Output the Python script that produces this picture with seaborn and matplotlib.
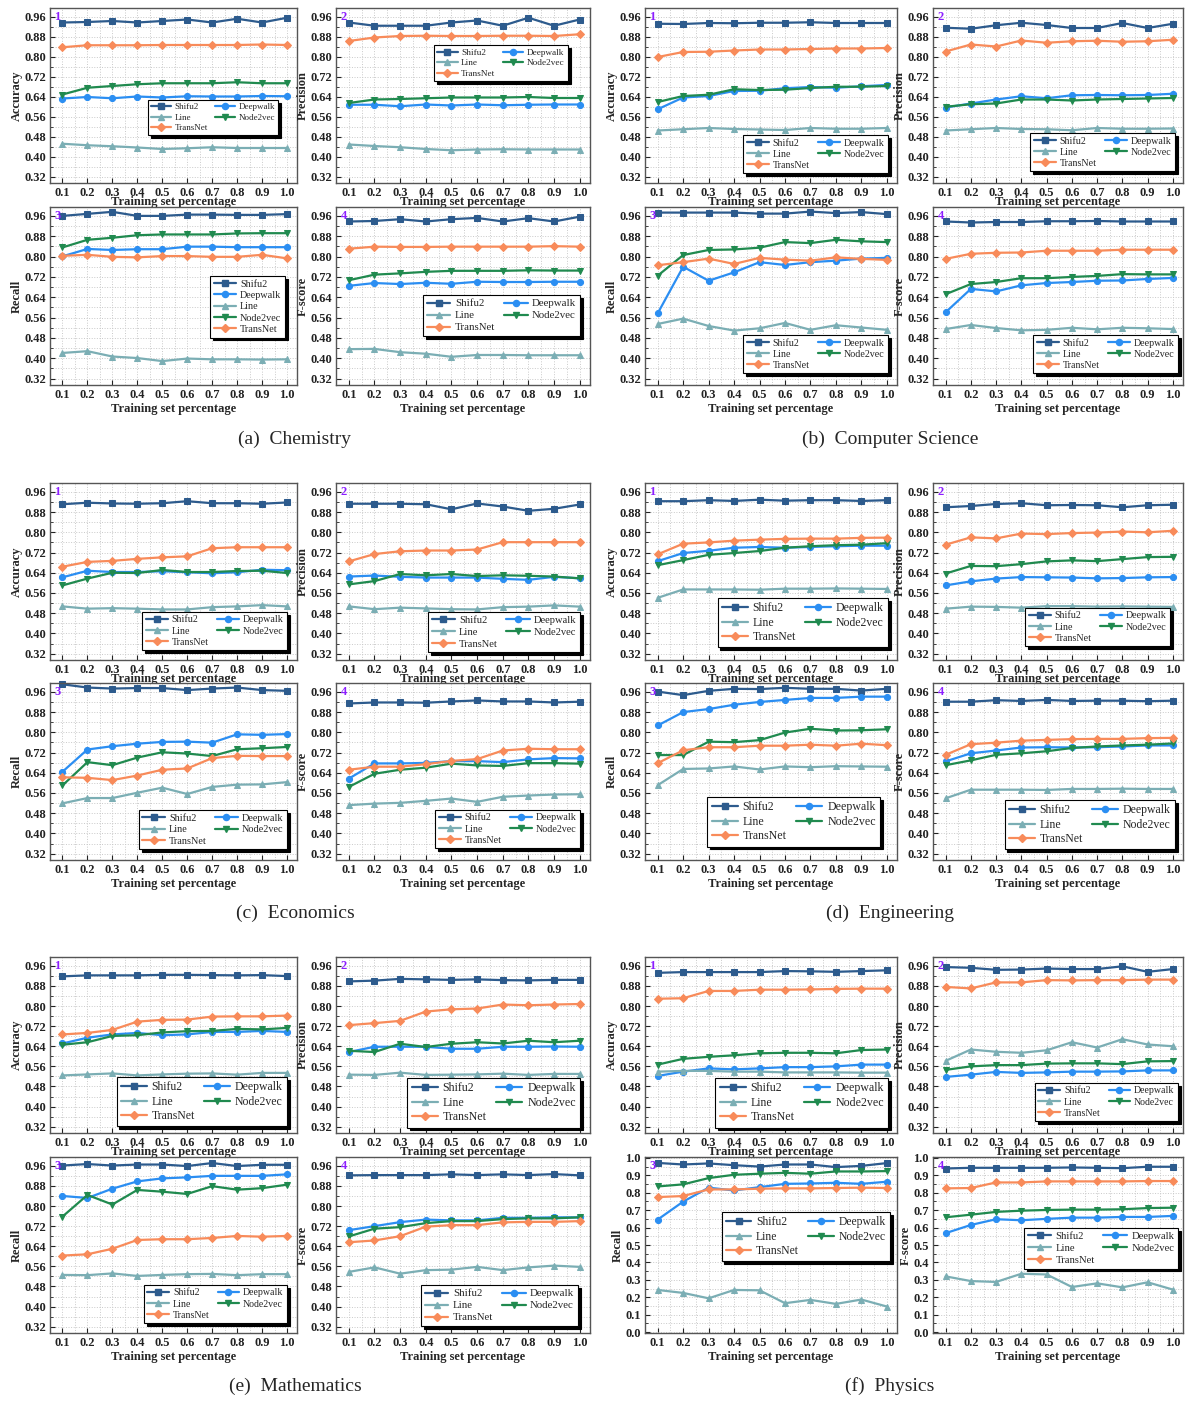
import numpy as np
import pandas as pd
import matplotlib
matplotlib.use("Agg")
import matplotlib.pyplot as plt
from matplotlib.lines import Line2D
from matplotlib.ticker import MultipleLocator, FormatStrFormatter
import seaborn as sns

# ---------------------------------------------------------------- data
TRAIN_PCT = [0.1, 0.2, 0.3, 0.4, 0.5, 0.6, 0.7, 0.8, 0.9, 1.0]
METHODS = ["Shifu2", "Deepwalk", "Line", "Node2vec", "TransNet"]

# Chemistry
CHEM_ACC = {
    "Shifu2":   [0.937, 0.939, 0.943, 0.937, 0.943, 0.949, 0.937, 0.952, 0.937, 0.956],
    "Deepwalk": [0.633, 0.639, 0.634, 0.641, 0.637, 0.642, 0.641, 0.641, 0.643, 0.642],
    "Line":     [0.452, 0.446, 0.442, 0.437, 0.431, 0.434, 0.438, 0.435, 0.435, 0.435],
    "Node2vec": [0.649, 0.676, 0.683, 0.690, 0.694, 0.694, 0.694, 0.698, 0.694, 0.694],
    "TransNet": [0.838, 0.846, 0.846, 0.846, 0.847, 0.847, 0.847, 0.847, 0.849, 0.847],
}
CHEM_PREC = {
    "Shifu2":   [0.937, 0.924, 0.924, 0.924, 0.937, 0.945, 0.924, 0.956, 0.924, 0.949],
    "Deepwalk": [0.608, 0.608, 0.602, 0.609, 0.605, 0.609, 0.606, 0.608, 0.609, 0.609],
    "Line":     [0.449, 0.443, 0.438, 0.431, 0.426, 0.429, 0.430, 0.429, 0.429, 0.429],
    "Node2vec": [0.615, 0.629, 0.631, 0.634, 0.637, 0.637, 0.637, 0.639, 0.635, 0.635],
    "TransNet": [0.863, 0.877, 0.883, 0.884, 0.883, 0.883, 0.884, 0.884, 0.883, 0.890],
}
CHEM_REC = {
    "Shifu2":   [0.960, 0.968, 0.976, 0.960, 0.960, 0.965, 0.965, 0.964, 0.964, 0.967],
    "Deepwalk": [0.801, 0.830, 0.826, 0.829, 0.829, 0.839, 0.839, 0.837, 0.837, 0.837],
    "Line":     [0.421, 0.428, 0.407, 0.401, 0.389, 0.399, 0.396, 0.396, 0.395, 0.396],
    "Node2vec": [0.836, 0.866, 0.874, 0.884, 0.887, 0.887, 0.887, 0.891, 0.892, 0.892],
    "TransNet": [0.803, 0.807, 0.799, 0.797, 0.802, 0.802, 0.799, 0.799, 0.807, 0.793],
}
CHEM_F1 = {
    "Shifu2":   [0.938, 0.940, 0.947, 0.938, 0.947, 0.952, 0.938, 0.951, 0.938, 0.957],
    "Deepwalk": [0.685, 0.696, 0.692, 0.697, 0.693, 0.701, 0.700, 0.700, 0.701, 0.701],
    "Line":     [0.436, 0.437, 0.424, 0.418, 0.406, 0.413, 0.413, 0.412, 0.412, 0.412],
    "Node2vec": [0.707, 0.729, 0.734, 0.740, 0.744, 0.744, 0.744, 0.746, 0.745, 0.745],
    "TransNet": [0.831, 0.839, 0.838, 0.838, 0.839, 0.839, 0.839, 0.839, 0.841, 0.839],
}

# Computer Science
CS_ACC = {
    "Shifu2":   [0.932, 0.931, 0.935, 0.934, 0.936, 0.936, 0.938, 0.935, 0.935, 0.935],
    "Deepwalk": [0.590, 0.637, 0.643, 0.663, 0.664, 0.674, 0.679, 0.676, 0.682, 0.687],
    "Line":     [0.505, 0.510, 0.515, 0.511, 0.509, 0.507, 0.515, 0.512, 0.512, 0.515],
    "Node2vec": [0.619, 0.643, 0.648, 0.670, 0.667, 0.668, 0.675, 0.680, 0.680, 0.683],
    "TransNet": [0.799, 0.819, 0.820, 0.825, 0.829, 0.829, 0.831, 0.833, 0.833, 0.835],
}
CS_PREC = {
    "Shifu2":   [0.916, 0.912, 0.926, 0.936, 0.927, 0.915, 0.915, 0.935, 0.915, 0.932],
    "Deepwalk": [0.597, 0.613, 0.629, 0.642, 0.634, 0.646, 0.647, 0.646, 0.647, 0.652],
    "Line":     [0.505, 0.510, 0.515, 0.511, 0.510, 0.506, 0.515, 0.512, 0.512, 0.513],
    "Node2vec": [0.600, 0.610, 0.613, 0.629, 0.629, 0.625, 0.629, 0.631, 0.633, 0.635],
    "TransNet": [0.821, 0.849, 0.841, 0.865, 0.856, 0.862, 0.864, 0.860, 0.862, 0.868],
}
CS_REC = {
    "Shifu2":   [0.973, 0.973, 0.973, 0.973, 0.969, 0.969, 0.977, 0.971, 0.975, 0.967],
    "Deepwalk": [0.577, 0.760, 0.705, 0.738, 0.778, 0.767, 0.778, 0.784, 0.792, 0.795],
    "Line":     [0.535, 0.556, 0.527, 0.509, 0.518, 0.539, 0.512, 0.530, 0.521, 0.512],
    "Node2vec": [0.725, 0.806, 0.826, 0.828, 0.835, 0.857, 0.853, 0.866, 0.860, 0.857],
    "TransNet": [0.766, 0.778, 0.792, 0.771, 0.795, 0.788, 0.784, 0.797, 0.791, 0.787],
}
CS_F1 = {
    "Shifu2":   [0.938, 0.934, 0.936, 0.936, 0.939, 0.939, 0.940, 0.938, 0.938, 0.938],
    "Deepwalk": [0.581, 0.673, 0.663, 0.687, 0.696, 0.700, 0.705, 0.706, 0.712, 0.716],
    "Line":     [0.515, 0.531, 0.519, 0.510, 0.512, 0.520, 0.514, 0.520, 0.518, 0.515],
    "Node2vec": [0.652, 0.692, 0.700, 0.715, 0.715, 0.720, 0.724, 0.731, 0.730, 0.730],
    "TransNet": [0.791, 0.811, 0.815, 0.816, 0.823, 0.823, 0.823, 0.827, 0.827, 0.827],
}

# Economics
ECON_ACC = {
    "Shifu2":   [0.911, 0.917, 0.914, 0.913, 0.915, 0.923, 0.915, 0.915, 0.913, 0.918],
    "Deepwalk": [0.622, 0.648, 0.643, 0.643, 0.646, 0.642, 0.638, 0.642, 0.652, 0.650],
    "Line":     [0.507, 0.498, 0.500, 0.498, 0.495, 0.495, 0.504, 0.507, 0.512, 0.507],
    "Node2vec": [0.590, 0.617, 0.640, 0.639, 0.651, 0.643, 0.643, 0.647, 0.648, 0.639],
    "TransNet": [0.664, 0.683, 0.687, 0.695, 0.701, 0.705, 0.737, 0.741, 0.741, 0.741],
}
ECON_PREC = {
    "Shifu2":   [0.913, 0.913, 0.913, 0.911, 0.891, 0.914, 0.902, 0.885, 0.893, 0.910],
    "Deepwalk": [0.625, 0.629, 0.624, 0.621, 0.621, 0.621, 0.616, 0.612, 0.624, 0.618],
    "Line":     [0.507, 0.496, 0.502, 0.499, 0.496, 0.495, 0.504, 0.506, 0.511, 0.506],
    "Node2vec": [0.594, 0.607, 0.635, 0.630, 0.635, 0.627, 0.630, 0.628, 0.625, 0.618],
    "TransNet": [0.685, 0.714, 0.725, 0.728, 0.728, 0.732, 0.761, 0.761, 0.761, 0.761],
}
ECON_REC = {
    "Shifu2":   [0.990, 0.977, 0.973, 0.975, 0.975, 0.967, 0.973, 0.977, 0.967, 0.964],
    "Deepwalk": [0.644, 0.732, 0.745, 0.755, 0.762, 0.763, 0.759, 0.792, 0.790, 0.793],
    "Line":     [0.519, 0.540, 0.540, 0.561, 0.581, 0.556, 0.584, 0.593, 0.594, 0.603],
    "Node2vec": [0.590, 0.682, 0.670, 0.700, 0.721, 0.716, 0.706, 0.733, 0.737, 0.742],
    "TransNet": [0.622, 0.620, 0.611, 0.629, 0.652, 0.657, 0.698, 0.707, 0.706, 0.706],
}
ECON_F1 = {
    "Shifu2":   [0.914, 0.918, 0.918, 0.917, 0.922, 0.926, 0.922, 0.922, 0.918, 0.921],
    "Deepwalk": [0.617, 0.677, 0.677, 0.679, 0.686, 0.686, 0.682, 0.693, 0.698, 0.697],
    "Line":     [0.512, 0.518, 0.521, 0.529, 0.538, 0.525, 0.545, 0.550, 0.554, 0.555],
    "Node2vec": [0.584, 0.636, 0.652, 0.660, 0.676, 0.669, 0.667, 0.678, 0.678, 0.676],
    "TransNet": [0.652, 0.664, 0.664, 0.674, 0.687, 0.694, 0.728, 0.735, 0.733, 0.733],
}

# Engineering
ENG_ACC = {
    "Shifu2":   [0.923, 0.923, 0.927, 0.924, 0.929, 0.925, 0.927, 0.927, 0.924, 0.927],
    "Deepwalk": [0.686, 0.718, 0.727, 0.739, 0.742, 0.739, 0.742, 0.745, 0.747, 0.747],
    "Line":     [0.541, 0.574, 0.574, 0.574, 0.573, 0.577, 0.577, 0.578, 0.577, 0.576],
    "Node2vec": [0.670, 0.690, 0.711, 0.718, 0.726, 0.739, 0.745, 0.749, 0.751, 0.757],
    "TransNet": [0.713, 0.755, 0.760, 0.767, 0.771, 0.774, 0.775, 0.775, 0.778, 0.779],
}
ENG_PREC = {
    "Shifu2":   [0.899, 0.904, 0.912, 0.915, 0.907, 0.908, 0.907, 0.899, 0.907, 0.909],
    "Deepwalk": [0.590, 0.606, 0.617, 0.623, 0.622, 0.621, 0.618, 0.619, 0.622, 0.623],
    "Line":     [0.498, 0.506, 0.505, 0.502, 0.508, 0.508, 0.506, 0.507, 0.506, 0.505],
    "Node2vec": [0.637, 0.667, 0.666, 0.674, 0.685, 0.689, 0.686, 0.694, 0.702, 0.703],
    "TransNet": [0.751, 0.780, 0.776, 0.795, 0.793, 0.797, 0.799, 0.803, 0.800, 0.806],
}
ENG_REC = {
    "Shifu2":   [0.961, 0.947, 0.964, 0.972, 0.971, 0.976, 0.972, 0.972, 0.965, 0.972],
    "Deepwalk": [0.827, 0.880, 0.892, 0.909, 0.920, 0.928, 0.936, 0.936, 0.941, 0.941],
    "Line":     [0.591, 0.655, 0.657, 0.665, 0.653, 0.665, 0.662, 0.666, 0.665, 0.664],
    "Node2vec": [0.710, 0.710, 0.763, 0.761, 0.769, 0.799, 0.814, 0.807, 0.808, 0.812],
    "TransNet": [0.678, 0.729, 0.741, 0.741, 0.747, 0.747, 0.751, 0.747, 0.755, 0.749],
}
ENG_F1 = {
    "Shifu2":   [0.921, 0.921, 0.927, 0.924, 0.928, 0.924, 0.925, 0.925, 0.923, 0.925],
    "Deepwalk": [0.685, 0.717, 0.728, 0.740, 0.741, 0.740, 0.741, 0.744, 0.748, 0.748],
    "Line":     [0.539, 0.573, 0.573, 0.573, 0.572, 0.576, 0.576, 0.577, 0.576, 0.576],
    "Node2vec": [0.670, 0.689, 0.711, 0.717, 0.725, 0.738, 0.744, 0.748, 0.751, 0.756],
    "TransNet": [0.711, 0.753, 0.759, 0.767, 0.770, 0.773, 0.774, 0.774, 0.777, 0.778],
}

# Mathematics
MATH_ACC = {
    "Shifu2":   [0.918, 0.922, 0.922, 0.922, 0.924, 0.924, 0.923, 0.922, 0.923, 0.919],
    "Deepwalk": [0.651, 0.674, 0.687, 0.693, 0.684, 0.687, 0.697, 0.697, 0.701, 0.697],
    "Line":     [0.524, 0.528, 0.532, 0.524, 0.528, 0.531, 0.532, 0.527, 0.534, 0.534],
    "Node2vec": [0.646, 0.656, 0.681, 0.684, 0.695, 0.700, 0.701, 0.709, 0.707, 0.713],
    "TransNet": [0.687, 0.693, 0.705, 0.738, 0.745, 0.746, 0.758, 0.759, 0.759, 0.762],
}
MATH_PREC = {
    "Shifu2":   [0.898, 0.901, 0.908, 0.906, 0.904, 0.906, 0.903, 0.902, 0.904, 0.904],
    "Deepwalk": [0.617, 0.638, 0.638, 0.638, 0.630, 0.630, 0.638, 0.638, 0.639, 0.638],
    "Line":     [0.527, 0.526, 0.535, 0.526, 0.527, 0.528, 0.531, 0.526, 0.530, 0.530],
    "Node2vec": [0.622, 0.617, 0.650, 0.637, 0.650, 0.656, 0.651, 0.662, 0.656, 0.662],
    "TransNet": [0.724, 0.732, 0.741, 0.778, 0.787, 0.790, 0.806, 0.803, 0.806, 0.808],
}
MATH_REC = {
    "Shifu2":   [0.961, 0.967, 0.961, 0.965, 0.965, 0.959, 0.971, 0.959, 0.964, 0.964],
    "Deepwalk": [0.840, 0.832, 0.869, 0.898, 0.910, 0.914, 0.920, 0.920, 0.920, 0.926],
    "Line":     [0.526, 0.525, 0.532, 0.522, 0.526, 0.529, 0.530, 0.525, 0.529, 0.529],
    "Node2vec": [0.758, 0.844, 0.806, 0.864, 0.857, 0.848, 0.879, 0.865, 0.871, 0.885],
    "TransNet": [0.603, 0.608, 0.630, 0.665, 0.668, 0.668, 0.673, 0.681, 0.678, 0.681],
}
MATH_F1 = {
    "Shifu2":   [0.922, 0.923, 0.923, 0.923, 0.926, 0.923, 0.926, 0.923, 0.927, 0.922],
    "Deepwalk": [0.704, 0.720, 0.736, 0.746, 0.743, 0.743, 0.753, 0.753, 0.755, 0.755],
    "Line":     [0.538, 0.556, 0.531, 0.545, 0.547, 0.558, 0.545, 0.556, 0.563, 0.558],
    "Node2vec": [0.679, 0.710, 0.716, 0.732, 0.740, 0.740, 0.748, 0.751, 0.751, 0.755],
    "TransNet": [0.656, 0.663, 0.680, 0.718, 0.724, 0.724, 0.735, 0.737, 0.737, 0.740],
}

# Physics
PHYS_ACC = {
    "Shifu2":   [0.932, 0.935, 0.935, 0.935, 0.935, 0.939, 0.938, 0.936, 0.939, 0.942],
    "Deepwalk": [0.522, 0.539, 0.552, 0.548, 0.552, 0.557, 0.557, 0.560, 0.567, 0.567],
    "Line":     [0.539, 0.542, 0.542, 0.539, 0.539, 0.536, 0.536, 0.536, 0.535, 0.535],
    "Node2vec": [0.567, 0.590, 0.598, 0.604, 0.612, 0.614, 0.614, 0.612, 0.625, 0.627],
    "TransNet": [0.829, 0.831, 0.860, 0.860, 0.865, 0.865, 0.866, 0.868, 0.869, 0.869],
}
PHYS_PREC = {
    "Shifu2":   [0.955, 0.952, 0.944, 0.945, 0.949, 0.947, 0.947, 0.958, 0.936, 0.947],
    "Deepwalk": [0.518, 0.527, 0.538, 0.534, 0.536, 0.539, 0.539, 0.540, 0.544, 0.544],
    "Line":     [0.582, 0.627, 0.618, 0.614, 0.624, 0.656, 0.635, 0.668, 0.647, 0.640],
    "Node2vec": [0.546, 0.560, 0.565, 0.565, 0.571, 0.572, 0.572, 0.569, 0.580, 0.581],
    "TransNet": [0.876, 0.870, 0.894, 0.894, 0.903, 0.902, 0.903, 0.903, 0.905, 0.905],
}
PHYS_REC = {
    "Shifu2":   [0.971, 0.962, 0.968, 0.958, 0.950, 0.962, 0.962, 0.947, 0.954, 0.970],
    "Deepwalk": [0.646, 0.749, 0.829, 0.813, 0.832, 0.851, 0.853, 0.857, 0.851, 0.863],
    "Line":     [0.242, 0.225, 0.194, 0.242, 0.240, 0.166, 0.185, 0.162, 0.187, 0.147],
    "Node2vec": [0.836, 0.848, 0.884, 0.903, 0.909, 0.914, 0.909, 0.922, 0.922, 0.924],
    "TransNet": [0.775, 0.781, 0.819, 0.819, 0.823, 0.825, 0.825, 0.827, 0.829, 0.827],
}
PHYS_F1 = {
    "Shifu2":   [0.939, 0.943, 0.943, 0.943, 0.943, 0.945, 0.943, 0.941, 0.949, 0.949],
    "Deepwalk": [0.568, 0.615, 0.648, 0.642, 0.650, 0.657, 0.657, 0.661, 0.661, 0.667],
    "Line":     [0.320, 0.293, 0.288, 0.335, 0.331, 0.259, 0.280, 0.257, 0.286, 0.244],
    "Node2vec": [0.659, 0.674, 0.690, 0.697, 0.701, 0.703, 0.703, 0.705, 0.712, 0.714],
    "TransNet": [0.825, 0.827, 0.859, 0.859, 0.865, 0.865, 0.865, 0.865, 0.867, 0.867],
}

DOMAINS = ["Chemistry", "Computer Science", "Economics",
           "Engineering", "Mathematics", "Physics"]
DOMAIN_TAGS = ["(a)", "(b)", "(c)", "(d)", "(e)", "(f)"]
METRICS = ["Accuracy", "Precision", "Recall", "F-score"]
PANEL_DATA = [
    [CHEM_ACC, CHEM_PREC, CHEM_REC, CHEM_F1],
    [CS_ACC, CS_PREC, CS_REC, CS_F1],
    [ECON_ACC, ECON_PREC, ECON_REC, ECON_F1],
    [ENG_ACC, ENG_PREC, ENG_REC, ENG_F1],
    [MATH_ACC, MATH_PREC, MATH_REC, MATH_F1],
    [PHYS_ACC, PHYS_PREC, PHYS_REC, PHYS_F1],
]

# ---------------------------------------------------------------- style
COLORS = {"Shifu2": "#2D5B8D", "Deepwalk": "#2B8EF2", "Line": "#7BAEB4",
          "Node2vec": "#208A4F", "TransNet": "#F88B5A"}
MARKERS = {"Shifu2": "s", "Deepwalk": "o", "Line": "^",
           "Node2vec": "v", "TransNet": "D"}
MSIZE = {"Shifu2": 4.2, "Deepwalk": 4.4, "Line": 4.6, "Node2vec": 4.6, "TransNet": 3.6}

W, H = 1185, 1401
SERIF = ["Liberation Serif", "DejaVu Serif"]

sns.set_theme(style="ticks")
plt.rcParams.update({
    "font.family": SERIF,
    "font.weight": "bold",
    "axes.labelweight": "bold",
    "axes.edgecolor": "#555555",
    "axes.linewidth": 1.0,
    "xtick.color": "#222222",
    "ytick.color": "#222222",
    "xtick.labelsize": 9,
    "ytick.labelsize": 9,
    "axes.labelsize": 9,
    "xtick.direction": "in",
    "ytick.direction": "in",
})

# axes extents in pixels
COL_X = [[(50, 297), (336, 590)], [(645, 897), (933, 1183)]]
ROW_Y = [[(8, 183), (207, 385)], [(483, 660), (683, 860)], [(957, 1133), (1157, 1333)]]
CAPTION_Y = [439, 913, 1386]
CAPTION_X = [295, 890]

# legend placement per panel: (right px, top px, font size, columns)
LEGENDS = [
    [(278, 100, 6.5, 2), (568, 45, 6.7, 2), (285, 276, 7.3, 1), (580, 295, 7.8, 2)],
    [(888, 135, 7.2, 2), (1175, 133, 7.2, 2), (888, 335, 7.2, 2), (1178, 335, 7.2, 2)],
    [(287, 612, 7.2, 2), (580, 612, 7.6, 2), (287, 810, 7.4, 2), (580, 810, 7.2, 2)],
    [(888, 598, 8.5, 2), (1170, 608, 7.2, 2), (880, 797, 8.6, 2), (1175, 800, 8.5, 2)],
    [(287, 1077, 8.5, 2), (580, 1078, 8.6, 2), (287, 1285, 7.1, 2), (578, 1285, 7.8, 2)],
    [(888, 1078, 8.6, 2), (1178, 1083, 7.1, 2), (890, 1212, 8.4, 2), (1178, 1228, 7.7, 2)],
]


def to_long(values):
    return pd.DataFrame({
        "pct": np.tile(TRAIN_PCT, len(METHODS)),
        "method": np.repeat(METHODS, len(TRAIN_PCT)),
        "score": np.concatenate([values[m] for m in METHODS]),
    })


def legend_handles(order):
    return [Line2D([], [], color=COLORS[m], marker=MARKERS[m], markersize=MSIZE[m],
                   markeredgecolor=COLORS[m], linewidth=1.6, label=m) for m in order]


fig = plt.figure(figsize=(W / 100, H / 100), dpi=100)

for d, (domain, panels) in enumerate(zip(DOMAINS, PANEL_DATA)):
    gcol, grow = d % 2, d // 2
    for p, (metric, values) in enumerate(zip(METRICS, panels)):
        prow, pcol = p // 2, p % 2
        x0, x1 = COL_X[gcol][pcol]
        y0, y1 = ROW_Y[grow][prow]
        ax = fig.add_axes([x0 / W, 1 - y1 / H, (x1 - x0) / W, (y1 - y0) / H])

        sns.lineplot(data=to_long(values), x="pct", y="score", hue="method",
                     style="method", hue_order=METHODS, style_order=METHODS,
                     palette=COLORS, markers=MARKERS, dashes=False,
                     linewidth=1.6, legend=False, errorbar=None, ax=ax)
        for line, m in zip(ax.lines, METHODS):
            line.set_markeredgecolor(COLORS[m])
            line.set_markerfacecolor(COLORS[m])
            line.set_markersize(MSIZE[m])
            line.set_clip_on(False)

        ax.set_xlim(0.05, 1.04)
        ax.set_xticks(TRAIN_PCT)
        ax.xaxis.set_major_formatter(FormatStrFormatter("%.1f"))
        ax.xaxis.set_minor_locator(MultipleLocator(0.05))
        full_range = (d == 5 and prow == 1)
        if full_range:
            ax.set_ylim(-0.005, 1.005)
            ax.yaxis.set_major_locator(MultipleLocator(0.1))
            ax.yaxis.set_minor_locator(MultipleLocator(0.05))
            ax.yaxis.set_major_formatter(FormatStrFormatter("%.1f"))
        else:
            ax.set_ylim(0.295, 0.995)
            ax.set_yticks(np.arange(0.32, 0.97, 0.08))
            ax.yaxis.set_minor_locator(MultipleLocator(0.04))
            ax.yaxis.set_major_formatter(FormatStrFormatter("%.2f"))

        ax.grid(True, which="both", color="#C9C9C9", linestyle=":", linewidth=0.7)
        ax.set_axisbelow(True)
        ax.tick_params(which="major", length=3.5, width=0.8, pad=3)
        ax.tick_params(which="minor", length=2, width=0.6)
        ax.tick_params(axis="x", which="minor", length=0)

        ax.set_xlabel("Training set percentage", labelpad=-2 if prow == 0 else 1.5)
        ax.set_ylabel(metric, labelpad=1)

        ax.text(0.018, 0.985, str(p + 1), transform=ax.transAxes, color="#8C1EFF",
                fontsize=9, fontweight="bold", va="top", ha="left")

        rx, ty, fs, ncol = LEGENDS[d][p]
        if ncol == 2:
            order = ["Shifu2", "Line", "TransNet", "Deepwalk", "Node2vec"]
        else:
            order = METHODS
        leg = ax.legend(handles=legend_handles(order), loc="upper right",
                        bbox_to_anchor=(rx / W, 1 - ty / H), bbox_transform=fig.transFigure,
                        ncol=ncol, prop={"family": SERIF, "size": fs, "weight": "normal"},
                        frameon=True, fancybox=False, framealpha=1, edgecolor="black",
                        shadow={"color": "black", "alpha": 1.0},
                        borderpad=0.35, labelspacing=0.22, handlelength=2.2,
                        handletextpad=0.4, columnspacing=0.8, borderaxespad=0)
        leg.get_frame().set_linewidth(0.8)

    fig.text(CAPTION_X[gcol] / W, 1 - CAPTION_Y[grow] / H,
             f"{DOMAIN_TAGS[d]}  {domain}", ha="center", va="center",
             fontsize=14, fontweight="normal", family=SERIF)

fig.savefig("out.png", dpi=100, facecolor="white")
